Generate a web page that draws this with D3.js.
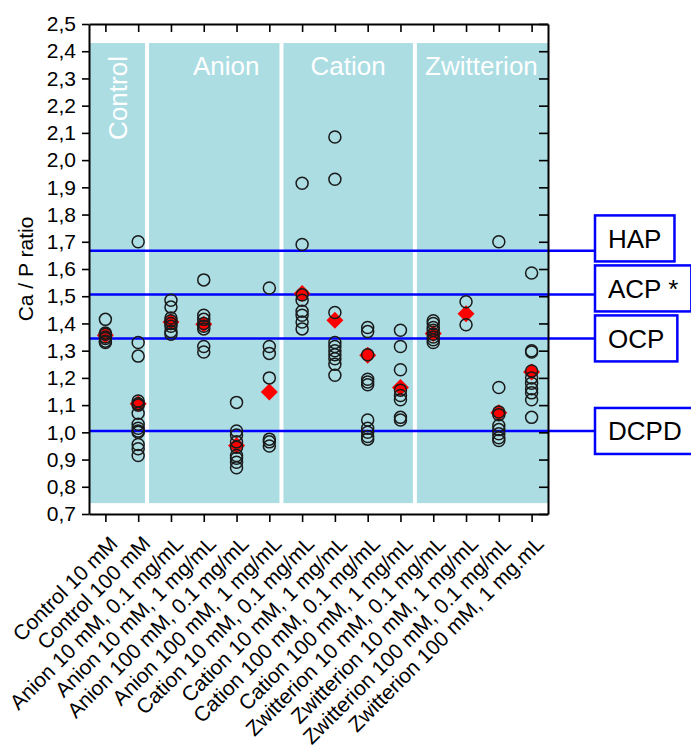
<!DOCTYPE html>
<html>
<head>
<meta charset="utf-8">
<script src="https://cdn.jsdelivr.net/npm/d3@7"></script>
<style>
  body { margin: 0; background: #fff; }
  svg text { font-family: "Liberation Sans", Arial, sans-serif; }
</style>
</head>
<body>
<div id="chart"></div>
<script>
// categories (x axis)
const categories = [
  "Control 10 mM", "Control 100 mM",
  "Anion 10 mM, 0.1 mg/mL", "Anion 10 mM, 1 mg/mL",
  "Anion 100 mM, 0.1 mg/mL", "Anion 100 mM, 1 mg/mL",
  "Cation 10 mM, 0.1 mg/mL", "Cation 10 mM, 1 mg/mL",
  "Cation 100 mM, 0.1 mg/mL", "Cation 100 mM, 1 mg/mL",
  "Zwitterion 10 mM, 0.1 mg/mL", "Zwitterion 10 mM, 1 mg/mL",
  "Zwitterion 100 mM, 0.1 mg/mL", "Zwitterion 100 mM, 1 mg.mL"
];

// single measurements, one list per category
const ratios = [
  [1.415, 1.365, 1.36, 1.35, 1.345, 1.335, 1.33],
  [1.70, 1.33, 1.28, 1.115, 1.105, 1.10, 1.07, 1.03, 1.015, 1.005, 1.0, 0.955, 0.94, 0.915],
  [1.485, 1.46, 1.42, 1.41, 1.40, 1.39, 1.37, 1.36],
  [1.56, 1.43, 1.415, 1.40, 1.39, 1.38, 1.315, 1.295],
  [1.11, 1.005, 0.99, 0.965, 0.945, 0.915, 0.905, 0.89, 0.87],
  [1.53, 1.315, 1.29, 1.20, 0.975, 0.965, 0.95],
  [1.915, 1.69, 1.505, 1.485, 1.445, 1.43, 1.405, 1.38],
  [2.085, 1.93, 1.44, 1.33, 1.315, 1.30, 1.285, 1.27, 1.25, 1.21],
  [1.385, 1.37, 1.285, 1.195, 1.185, 1.175, 1.045, 1.015, 1.0, 0.985, 0.975],
  [1.375, 1.315, 1.23, 1.155, 1.135, 1.12, 1.055, 1.045],
  [1.41, 1.40, 1.385, 1.375, 1.36, 1.35, 1.34, 1.33],
  [1.48, 1.395],
  [1.70, 1.165, 1.075, 1.065, 1.025, 1.01, 0.995, 0.98, 0.97],
  [1.585, 1.30, 1.295, 1.225, 1.20, 1.18, 1.16, 1.145, 1.12, 1.055]
];

// mean values (red diamonds)
const means = [1.357, 1.105, 1.405, 1.397, 0.952, 1.148, 1.51, 1.412, 1.283, 1.165, 1.363, 1.436, 1.072, 1.222];

// shaded groups, bounds in category-index units
const groupNames = ["Control", "Anion", "Cation", "Zwitterion"];
const groupBounds = [-0.5, 1.27, 5.37, 9.44, 13.5];
const groupTop = 2.43, groupBottom = 0.74;

// reference phases
const phaseNames = ["HAP", "ACP *", "OCP", "DCPD"];
const phaseValues = [1.667, 1.506, 1.345, 1.005];

// y ticks
const yTicks = d3.range(7, 26).map((d) => d / 10);

const width = 691, height = 747;
const margin = { left: 89, right: 143, top: 24, bottom: 233 };
const plotRight = width - margin.right;
const plotBottom = height - margin.bottom;

const svg = d3.select("#chart").append("svg")
  .attr("width", width).attr("height", height);

const x = d3.scalePoint().domain(categories).range([margin.left, plotRight]).padding(0.5);
const xi = d3.scaleLinear().domain([-0.5, categories.length - 0.5]).range([margin.left, plotRight]);
const y = d3.scaleLinear().domain([0.7, 2.5]).range([plotBottom, margin.top]);

// teal panels
const panels = groupNames.map((name, i) => ({ name, from: groupBounds[i], to: groupBounds[i + 1] }));
svg.append("g").selectAll("rect").data(panels).join("rect")
  .attr("x", (d, i) => xi(d.from) + (i === 0 ? 0 : 2))
  .attr("width", (d, i) => xi(d.to) - xi(d.from) - (i === 0 ? 2 : i === panels.length - 1 ? 2 : 4))
  .attr("y", y(groupTop))
  .attr("height", y(groupBottom) - y(groupTop))
  .attr("fill", "#abdde3");

// panel titles
svg.append("g").selectAll("text").data(panels).join("text")
  .attr("fill", "#fff")
  .style("font-size", "26px")
  .attr("text-anchor", (d, i) => (i === 0 ? "end" : "middle"))
  .attr("dy", (d, i) => (i === 0 ? "0.35em" : 0))
  .attr("transform", (d, i) => {
    const cx = (xi(d.from) + xi(d.to)) / 2 + (d.name === "Anion" ? 12 : 0);
    return i === 0
      ? `translate(${cx},${y(groupTop) + 13}) rotate(-90)`
      : `translate(${cx},${y(groupTop) + 32})`;
  })
  .text((d) => d.name);

// reference lines + boxes
const boxH = 46, boxX = 595, gap = 4;
const phases = phaseNames.map((name, i) => ({ name, value: phaseValues[i], cy: y(phaseValues[i]) }));
// push boxes upward so they don't overlap (bottom first)
const sorted = phases.slice().sort((a, b) => b.cy - a.cy);
for (let i = 1; i < sorted.length; i++) {
  const below = sorted[i - 1];
  if (sorted[i].cy + boxH / 2 > below.cy - boxH / 2 - gap) {
    sorted[i].cy = below.cy - boxH - gap;
  }
}

const ref = svg.append("g");
ref.selectAll("line").data(phases).join("line")
  .attr("x1", margin.left).attr("x2", boxX)
  .attr("y1", (d) => y(d.value)).attr("y2", (d) => y(d.value))
  .attr("stroke", "#0000ff").attr("stroke-width", 2.5);

const boxes = ref.selectAll("g.box").data(phases).join("g").attr("class", "box");
boxes.append("rect")
  .attr("x", boxX).attr("y", (d) => d.cy - boxH / 2)
  .attr("height", boxH)
  .attr("fill", "#fff").attr("stroke", "#0000ff").attr("stroke-width", 2.5);
boxes.append("text")
  .attr("x", boxX + 13).attr("y", (d) => d.cy)
  .attr("dy", "0.36em")
  .style("font-size", "26px").attr("fill", "#000")
  .text((d) => d.name);
boxes.each(function () {
  const g = d3.select(this);
  const w = g.select("text").node().getComputedTextLength();
  g.select("rect").attr("width", w + 26);
});

// means (red diamonds) under the circles
const diamond = d3.symbol(d3.symbolSquare, 144);
svg.append("g").selectAll("path").data(means).join("path")
  .attr("d", diamond)
  .attr("transform", (d, i) => `translate(${x(categories[i])},${y(d)}) rotate(45)`)
  .attr("fill", "#ff0000");

// individual points
const pts = ratios.flatMap((vals, i) => vals.map((v) => ({ cat: categories[i], v })));
svg.append("g").selectAll("circle").data(pts).join("circle")
  .attr("cx", (d) => x(d.cat)).attr("cy", (d) => y(d.v))
  .attr("r", 6)
  .attr("fill", "none").attr("stroke", "#1a1a1a").attr("stroke-width", 1.5);

// axes
const fmt = (d) => d3.format(".1f")(d).replace(".", ",");

const yAxis = svg.append("g")
  .attr("transform", `translate(${margin.left},0)`)
  .call(d3.axisLeft(y).tickValues(yTicks).tickFormat(fmt).tickSize(7).tickSizeOuter(0).tickPadding(6));
yAxis.selectAll("text").style("font-size", "21px").attr("fill", "#000");

svg.append("g")
  .attr("transform", `translate(${plotRight},0)`)
  .call(d3.axisLeft(y).tickValues(yTicks).tickFormat("").tickSize(9).tickSizeOuter(0));

const xAxis = svg.append("g")
  .attr("transform", `translate(0,${plotBottom})`)
  .call(d3.axisBottom(x).tickSize(8).tickSizeOuter(0));
xAxis.selectAll("text")
  .attr("x", 0).attr("y", 0).attr("dy", 0)
  .attr("text-anchor", "end")
  .attr("transform", "translate(13,31) rotate(-45)")
  .style("font-size", "21px").attr("fill", "#000");

svg.append("g")
  .attr("transform", `translate(0,${margin.top})`)
  .call(d3.axisTop(x).tickSize(-8).tickSizeOuter(0).tickFormat(""));

svg.selectAll(".domain").attr("stroke", "#000").attr("stroke-width", 2);
svg.selectAll(".tick line").attr("stroke", "#000").attr("stroke-width", 1.6);

// y title
svg.append("text")
  .attr("transform", `translate(33,${(margin.top + plotBottom) / 2}) rotate(-90)`)
  .attr("text-anchor", "middle")
  .style("font-size", "21px")
  .text("Ca / P ratio");
</script>
</body>
</html>
